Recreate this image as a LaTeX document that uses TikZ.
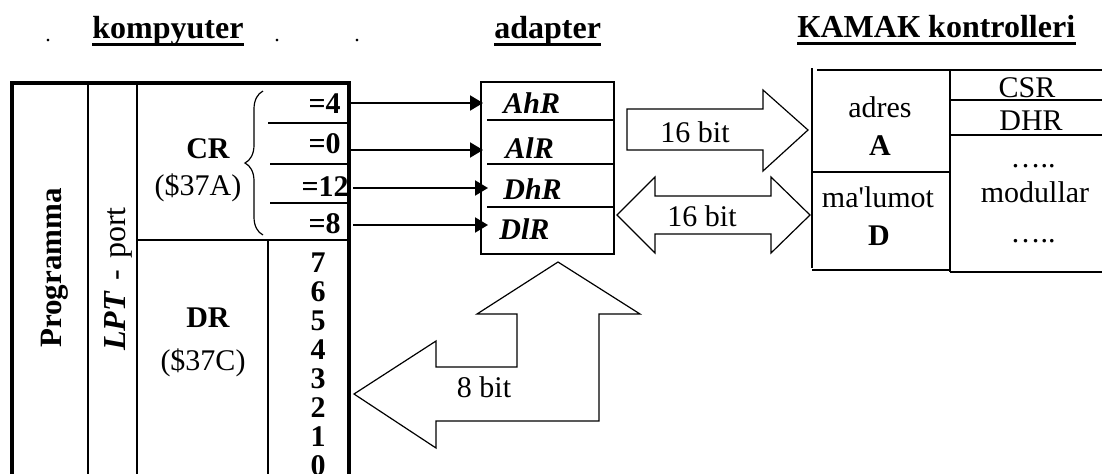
\documentclass[tikz,border=0pt]{standalone}
\usepackage{fontspec}
\setmainfont{Liberation Serif}
\usetikzlibrary{decorations.pathreplacing,arrows.meta}
\begin{document}
\begin{tikzpicture}[x=0.5pt,y=-0.5pt,
  txt/.style={inner sep=0pt, anchor=base, font=\fontsize{15}{18}\selectfont},
  txtb/.style={inner sep=0pt, anchor=base, font=\fontsize{15}{18}\selectfont\bfseries},
  txtbi/.style={inner sep=0pt, anchor=base west, font=\fontsize{15}{18}\selectfont\bfseries\itshape},
  head/.style={inner sep=0pt, anchor=base west, font=\fontsize{16}{19}\selectfont\bfseries},
  uline/.style={line width=1.4pt},
  outerln/.style={line width=1.6pt},
  rowln/.style={line width=1.3pt},
  medln/.style={line width=1pt},
  thinln/.style={line width=0.8pt},
  sig/.style={line width=1pt,-{Triangle[length=6.5pt,width=7.5pt]}},
  fat/.style={line width=0.6pt, line join=miter}]
\useasboundingbox (0,0) rectangle (1102,473);
\clip (0,0) rectangle (1102,473);

% headings
\node[head] (hk) at (92,38) {kompyuter};
\draw[uline] ([yshift=-3.2pt]hk.base west) -- ([yshift=-3.2pt]hk.base east);
\node[head] (ha) at (494,38) {adapter};
\draw[uline] ([yshift=-3.2pt]ha.base west) -- ([yshift=-3.2pt]ha.base east);
\node[head] (hc) at (797,37) {КАМАК kontrolleri};
\draw[uline] ([yshift=-3.2pt]hc.base west) -- ([yshift=-3.2pt]hc.base east);
\node[txt, font=\fontsize{11}{12}\selectfont] (p1) at (48,41) {.};
\node[txt, font=\fontsize{11}{12}\selectfont] (p2) at (277,41) {.};
\node[txt, font=\fontsize{11}{12}\selectfont] (p3) at (357,41) {.};

% computer box
\draw[outerln] (12,480) -- (12,83) -- (349,83) -- (349,480);
\draw[thinln] (88,83) -- (88,480);
\draw[thinln] (137,83) -- (137,480);
\draw[medln] (137,240) -- (349,240);
\draw[medln] (268,240) -- (268,480);
\draw[rowln] (268,123) -- (349,123);
\draw[rowln] (270,164) -- (349,164);
\draw[rowln] (270,203) -- (349,203);

\node[txtb, rotate=90, font=\fontsize{15.5}{18}\selectfont\bfseries] (prog) at (61,268) {Programma};
\node[txt, rotate=90, font=\fontsize{16}{18}\selectfont] (lpt) at (125,279) {\textbf{\textit{LPT}}\,\,-\,\,port};

\node[txtb] (cr) at (208,158) {CR};
\node[txt] (cra) at (198,195) {(\$37A)};
\node[txtb] (dr) at (208,327) {DR};
\node[txt] (drc) at (203,370) {(\$37C)};

\draw[line width=0.6pt, decorate, decoration={brace, amplitude=9pt}] (263,235) -- (263,91);

\node[txtb, anchor=base east] (v4) at (341,113) {=4};
\node[txtb, anchor=base east] (v0) at (341,153) {=0};
\node[txtb, anchor=base east] (v12) at (349,196) {=12};
\node[txtb, anchor=base east] (v8) at (341,233) {=8};

\foreach \d in {7,6,5,4,3,2,1,0}
  \node[txtb] (bit\d) at (318,{272+29*(7-\d)}) {\d};

% adapter
\node[draw, line width=0.9pt, inner sep=0pt, minimum width=66.5pt, minimum height=86pt, anchor=north west] (ad) at (480,81) {};
\draw[rowln] (487,120) -- (613,120);
\draw[rowln] (487,164) -- (613,164);
\draw[rowln] (487,207) -- (613,207);
\node[txtbi] (ahr) at (503,113) {AhR};
\node[txtbi] (alr) at (505,158) {AlR};
\node[txtbi] (dhr) at (503,199) {DhR};
\node[txtbi] (dlr) at (499,239) {DlR};

\coordinate (s1) at (351,103);
\coordinate (s2) at (351,150);
\coordinate (s3) at (353,188);
\coordinate (s4) at (353,225);
\coordinate (e1) at (483,103);
\coordinate (e2) at (483,150);
\coordinate (e3) at (488,188);
\coordinate (e4) at (488,225);
\draw[sig] (s1) -- (e1);
\draw[sig] (s2) -- (e2);
\draw[sig] (s3) -- (e3);
\draw[sig] (s4) -- (e4);

% KAMAK controller
\draw[line width=1.4pt] (812,68) -- (812,268);
\draw[thinln] (817,70) -- (1102,70);
\draw[thinln] (950,70) -- (950,272);
\draw[thinln] (812,172) -- (950,172);
\draw[thinln] (812,270) -- (950,270);
\draw[thinln] (950,272) -- (1102,272);
\draw[thinln] (950,100) -- (1102,100);
\draw[medln] (950,135) -- (1102,135);
\node[txt] (adres) at (880,117) {adres};
\node[txtb] (la) at (880,155) {A};
\node[txt] (mal) at (878,207) {ma\textquotesingle lumot};
\node[txtb] (ld) at (879,245) {D};
\node[txt] (csr) at (1027,97) {CSR};
\node[txt] (dhrr) at (1031,130) {DHR};
\node[txt] (dt1) at (1033,167) {…..};
\node[txt] (mod) at (1035,202) {modullar};
\node[txt] (dt2) at (1033,242) {…..};

% bus arrows
\draw[fat] (627,109) -- (763,109) -- (763,90) -- (808,130) -- (763,171) -- (763,150) -- (627,150) -- cycle;
\node[txt] (b16a) at (695,142) {16 bit};
\draw[fat] (617,215) -- (655,177) -- (655,196) -- (771,196) -- (771,177) -- (810,215) -- (771,253) -- (771,234) -- (655,234) -- (655,253) -- cycle;
\node[txt] (b16b) at (702,226) {16 bit};
\draw[fat] (354,394) -- (436,341) -- (436,367) -- (517,367) -- (517,314) -- (477,314) -- (558,262) -- (640,314) -- (599,314) -- (599,421) -- (436,421) -- (436,448) -- cycle;
\node[txt] (b8) at (484,397) {8 bit};
\end{tikzpicture}
\end{document}
